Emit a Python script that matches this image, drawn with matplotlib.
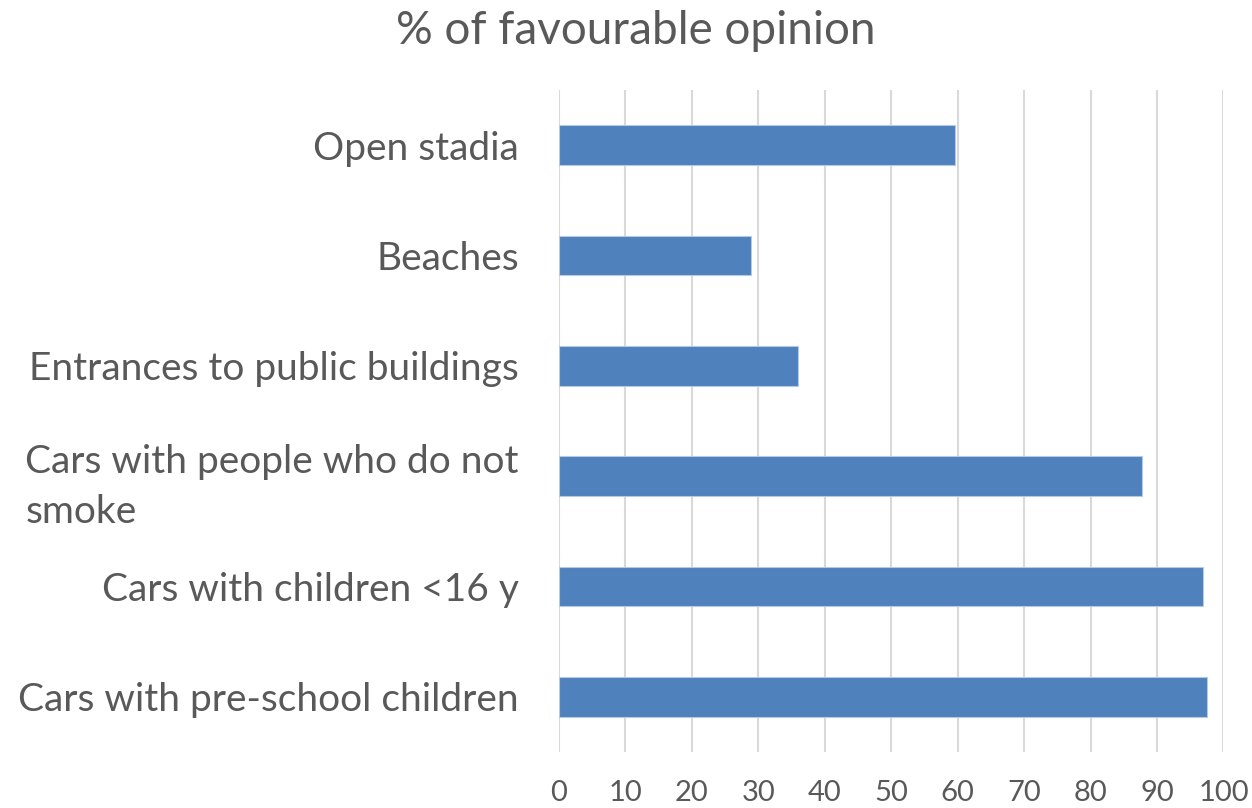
"""
Horizontal bar chart: share of favourable opinion on smoking bans by place.
"""

import numpy as np
import matplotlib.pyplot as plt

plt.rcParams['font.family'] = ['Lato', 'DejaVu Sans']

places = ["Open stadia",
          "Beaches",
          "Entrances to public buildings",
          "Cars with people who do not\nsmoke",
          "Cars with children <16 y",
          "Cars with pre-school children"]
favourable = [59.6, 28.9, 35.9, 87.8, 96.9, 97.5]
xticks = list(range(0, 101, 10))

text_col = "#595959"
bar_col = "#4f81bd"

fig = plt.figure(figsize=(12.52, 8.08), dpi=100)
ax = fig.add_axes([0.4465, 0.0693, 0.5307, 0.8193])

y = np.arange(len(places))
ax.barh(y, favourable, height=0.36, color=bar_col, edgecolor="#b4c9e6",
        linewidth=0.8, zorder=3)

ax.set_xlim(0, 100)
ax.set_ylim(len(places) - 0.5, -0.5)
ax.set_xticks(xticks)
ax.set_xticklabels([str(t) for t in xticks])
ax.set_yticks(y)
ax.set_yticklabels(places)

for lbl in ax.get_yticklabels():
    lbl.set_multialignment("left")
    lbl.set_linespacing(1.5)

ax.tick_params(axis="y", length=0, pad=29, labelsize=28, labelcolor=text_col)
ax.tick_params(axis="x", length=0, pad=20, labelsize=21, labelcolor=text_col)

ax.grid(axis="x", color="#d9d9d9", linewidth=1.5, zorder=0)
for s in ax.spines.values():
    s.set_visible(False)

fig.text(0.508, 0.962, "% of favourable opinion", ha="center", va="center",
         fontsize=33, color=text_col)

fig.savefig("out.png", dpi=100)
